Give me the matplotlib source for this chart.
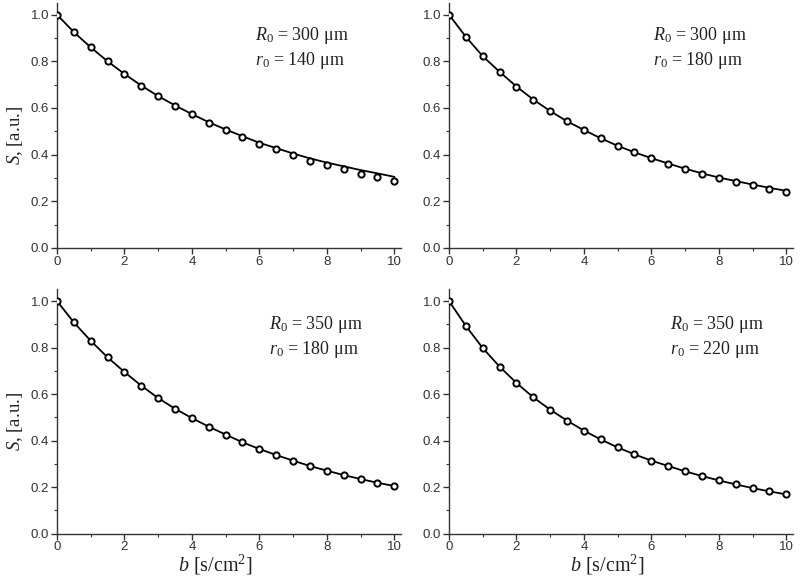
import numpy as np
import matplotlib
matplotlib.use("Agg")
import matplotlib.pyplot as plt
from matplotlib.ticker import MultipleLocator

plt.rcParams['mathtext.fontset'] = 'custom'
plt.rcParams['mathtext.rm'] = 'Liberation Serif'
plt.rcParams['mathtext.it'] = 'Liberation Serif:italic'

b = [0, 0.5, 1, 1.5, 2, 2.5, 3, 3.5, 4, 4.5, 5, 5.5, 6, 6.5, 7, 7.5, 8, 8.5, 9, 9.5, 10]

# measured points (circles)
pts_tl = [1.0, 0.925, 0.860, 0.800, 0.746, 0.696, 0.650, 0.610, 0.573, 0.537, 0.506,
          0.476, 0.447, 0.423, 0.398, 0.375, 0.355, 0.337, 0.319, 0.304, 0.287]
pts_tr = [1.0, 0.905, 0.822, 0.755, 0.692, 0.636, 0.587, 0.543, 0.506, 0.470, 0.438,
          0.410, 0.384, 0.360, 0.338, 0.318, 0.299, 0.284, 0.268, 0.254, 0.239]
pts_bl = [1.0, 0.908, 0.829, 0.758, 0.695, 0.636, 0.583, 0.537, 0.497, 0.460, 0.426,
          0.393, 0.364, 0.338, 0.314, 0.291, 0.271, 0.252, 0.235, 0.219, 0.205]
pts_br = [1.0, 0.893, 0.798, 0.718, 0.648, 0.586, 0.533, 0.486, 0.443, 0.405, 0.371,
          0.341, 0.314, 0.291, 0.268, 0.248, 0.229, 0.212, 0.196, 0.182, 0.169]

# fitted curves (solid lines)
fit_tl = [1.0, 0.925, 0.860, 0.800, 0.746, 0.696, 0.651, 0.611, 0.574, 0.539, 0.508,
          0.479, 0.451, 0.428, 0.405, 0.384, 0.366, 0.350, 0.334, 0.320, 0.305]
fit_tr = [1.0, 0.905, 0.822, 0.755, 0.692, 0.636, 0.587, 0.543, 0.506, 0.470, 0.438,
          0.410, 0.385, 0.362, 0.340, 0.320, 0.302, 0.287, 0.272, 0.258, 0.245]
fit_bl = [1.0, 0.908, 0.829, 0.758, 0.695, 0.636, 0.583, 0.537, 0.497, 0.460, 0.426,
          0.393, 0.364, 0.338, 0.314, 0.291, 0.271, 0.252, 0.235, 0.219, 0.205]
fit_br = [1.0, 0.893, 0.798, 0.718, 0.648, 0.586, 0.533, 0.486, 0.443, 0.405, 0.371,
          0.341, 0.314, 0.291, 0.268, 0.248, 0.229, 0.212, 0.196, 0.182, 0.169]

R0 = ["300", "300", "350", "350"]
r0 = ["140", "180", "180", "220"]

panels = [
    (pts_tl, fit_tl, [57/800, 336/584, 344/800, 245/584], (5.87, 0.893)),
    (pts_tr, fit_tr, [449/800, 336/584, 344/800, 245/584], (6.04, 0.893)),
    (pts_bl, fit_bl, [57/800, 50.3/584, 344/800, 244.3/584], (6.30, 0.880)),
    (pts_br, fit_br, [449/800, 50.3/584, 344/800, 244.3/584], (6.54, 0.880)),
]

fig = plt.figure(figsize=(8, 5.84), dpi=100)
gray = '#333333'
serif = 'Liberation Serif'

for i, (pts, fit, pos, (tx, ty)) in enumerate(panels):
    ax = fig.add_axes(pos)
    ax.plot(b, fit, color='black', lw=1.3, zorder=2)
    ax.plot(b, pts, linestyle='none', marker='o', markersize=4.5,
            markerfacecolor='white', markeredgecolor='black', markeredgewidth=1.4, zorder=3)
    ax.set_xlim(0, 10.2)
    ax.set_ylim(0, 1.05)
    for s in ['top', 'right']:
        ax.spines[s].set_visible(False)
    for s in ['left', 'bottom']:
        ax.spines[s].set_color(gray)
        ax.spines[s].set_linewidth(1.0)
    ax.xaxis.set_major_locator(MultipleLocator(2))
    ax.xaxis.set_minor_locator(MultipleLocator(1))
    ax.yaxis.set_major_locator(MultipleLocator(0.2))
    ax.yaxis.set_minor_locator(MultipleLocator(0.1))
    ax.yaxis.set_major_formatter(matplotlib.ticker.FormatStrFormatter('%.1f'))
    ax.tick_params(which='major', direction='out', length=4, width=1.0, color=gray,
                   labelsize=9.5, labelcolor=gray, pad=1.5)
    ax.tick_params(which='minor', direction='out', length=2.5, width=0.8, color=gray)
    for lab in ax.get_xticklabels() + ax.get_yticklabels():
        lab.set_family('Liberation Sans')
    ax.text(tx, ty, r'$R_0$ = ' + R0[i] + ' μm', fontsize=13, family=serif,
            color='#222222', va='baseline', ha='left')
    ax.text(tx, ty - 0.108, r'$r_0$ = ' + r0[i] + ' μm', fontsize=13, family=serif,
            color='#222222', va='baseline', ha='left')
    if i in (0, 2):
        ax.set_ylabel(r'$S$, [a.u.]', fontsize=13.5, family=serif, color='#222222')
        ax.yaxis.set_label_coords(-0.092, 0.46)
    if i in (2, 3):
        ax.set_xlabel(r'$b$ [s/cm$^2$]', fontsize=14.5, family=serif, color='#222222')
        ax.xaxis.set_label_coords(0.46, -0.078)

fig.savefig('out.png', dpi=100, facecolor='white')
